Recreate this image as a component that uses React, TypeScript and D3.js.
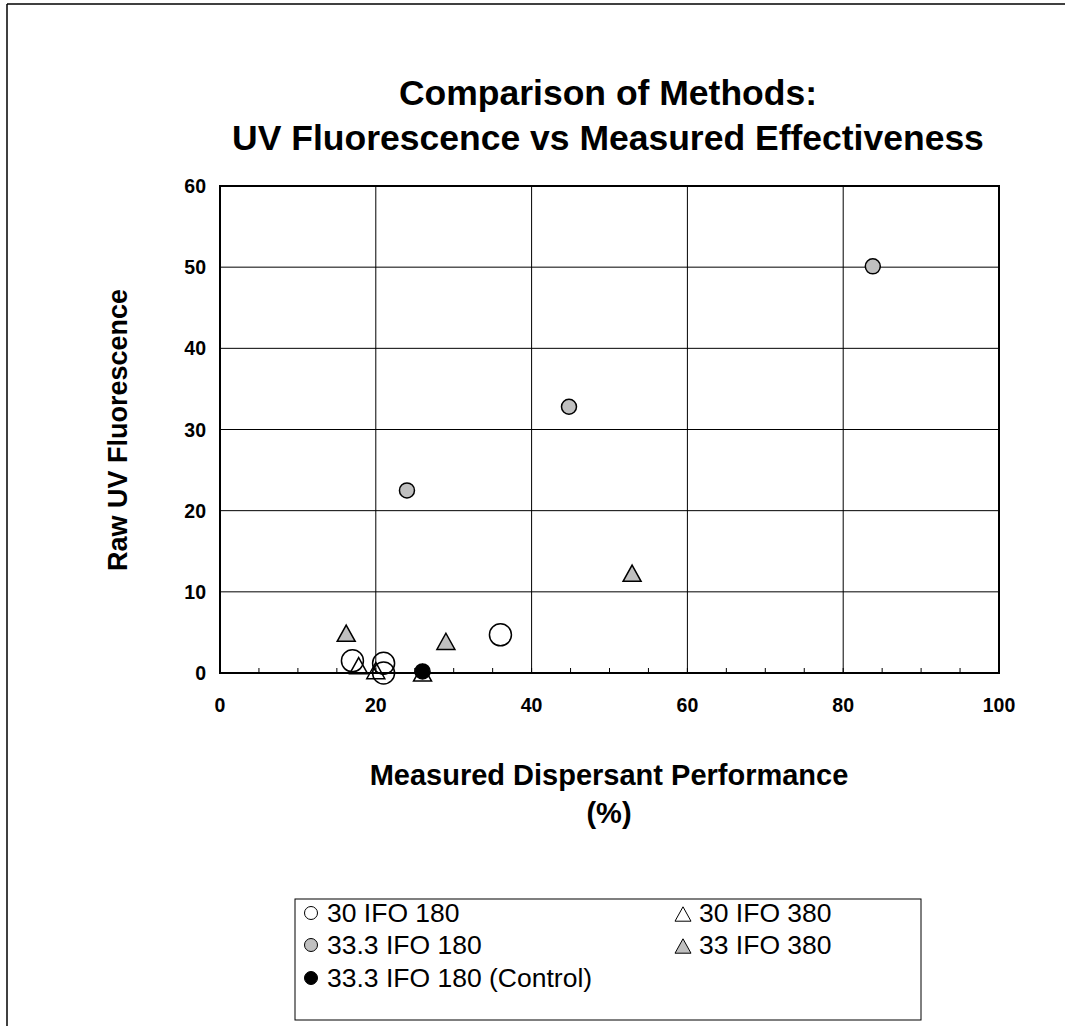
import React from "react";
import * as d3 from "d3";

const W = 1065;
const H = 1026;

// Data
const openCircleX = [17, 21, 21, 36];
const openCircleY = [1.5, 1.2, 0.0, 4.7];
const grayCircleX = [24, 44.8, 83.8];
const grayCircleY = [22.5, 32.8, 50.1];
const openTriX = [17.8, 20, 26];
const openTriY = [0.9, 0.3, 0.0];
const grayTriX = [16.2, 29, 52.9];
const grayTriY = [4.9, 3.9, 12.3];
const blackX = [26];
const blackY = [0.2];

const xTicks = [0, 20, 40, 60, 80, 100];
const yTicks = [0, 10, 20, 30, 40, 50, 60];
const xMinor = d3.range(0, 101, 5);

const titleLines = ["Comparison of Methods:", "UV Fluorescence vs Measured Effectiveness"];
const xTitleLines = ["Measured Dispersant Performance", "(%)"];
const yTitle = "Raw UV Fluorescence";

const legendItems = [
  { label: "30 IFO 180", shape: "circle", fill: "#ffffff" },
  { label: "30 IFO 380", shape: "triangle", fill: "#ffffff" },
  { label: "33.3 IFO 180", shape: "circle", fill: "#c0c0c0" },
  { label: "33 IFO 380", shape: "triangle", fill: "#c0c0c0" },
  { label: "33.3 IFO 180 (Control)", shape: "circle", fill: "#000000" },
];

const FONT = "'Liberation Sans', Arial, sans-serif";

export default function App() {
  const x = d3.scaleLinear().domain([0, 100]).range([220, 999]);
  const y = d3.scaleLinear().domain([0, 60]).range([673, 186]);

  const tri = (cx: number, cy: number, w: number) => {
    const h = w * 0.9;
    return `M${cx},${cy - h / 2} L${cx + w / 2},${cy + h / 2} L${cx - w / 2},${cy + h / 2} Z`;
  };

  const legendPos = [
    { x: 311, y: 913 },
    { x: 683, y: 913 },
    { x: 311, y: 945 },
    { x: 683, y: 945 },
    { x: 311, y: 978 },
  ];

  return (
    <svg
      width={W}
      height={H}
      style={{ position: "absolute", left: 0, top: 0, background: "#fff" }}
      fontFamily={FONT}
    >
      {/* outer frame */}
      <line x1={7} y1={4} x2={W} y2={4} stroke="#000" strokeWidth={1.5} />
      <line x1={7} y1={4} x2={7} y2={H} stroke="#000" strokeWidth={1.5} />

      {/* title */}
      {titleLines.map((t, i) => (
        <text
          key={i}
          x={608}
          y={105 + i * 45}
          textAnchor="middle"
          fontWeight="bold"
          fontSize={35.5}
        >
          {t}
        </text>
      ))}

      {/* gridlines */}
      {yTicks.slice(1, -1).map((t) => (
        <line key={"gy" + t} x1={x(0)} x2={x(100)} y1={y(t)} y2={y(t)} stroke="#000" strokeWidth={1} />
      ))}
      {xTicks.slice(1, -1).map((t) => (
        <line key={"gx" + t} x1={x(t)} x2={x(t)} y1={y(0)} y2={y(60)} stroke="#000" strokeWidth={1} />
      ))}

      {/* minor ticks */}
      {xMinor.map((t) => (
        <line key={"mt" + t} x1={x(t)} x2={x(t)} y1={y(0)} y2={y(0) - 5} stroke="#000" strokeWidth={1} />
      ))}

      {/* plot border */}
      <rect x={x(0)} y={y(60)} width={x(100) - x(0)} height={y(0) - y(60)} fill="none" stroke="#000" strokeWidth={2} />

      {/* tick labels */}
      {yTicks.map((t) => (
        <text key={"yl" + t} x={206} y={y(t) + 7} textAnchor="end" fontWeight="bold" fontSize={19.5}>
          {t}
        </text>
      ))}
      {xTicks.map((t) => (
        <text key={"xl" + t} x={x(t)} y={712} textAnchor="middle" fontWeight="bold" fontSize={19.5}>
          {t}
        </text>
      ))}

      {/* axis titles */}
      {xTitleLines.map((t, i) => (
        <text key={"xt" + i} x={609} y={785 + i * 38} textAnchor="middle" fontWeight="bold" fontSize={29}>
          {t}
        </text>
      ))}
      <text
        transform={`translate(127,430) rotate(-90)`}
        textAnchor="middle"
        fontWeight="bold"
        fontSize={27}
      >
        {yTitle}
      </text>

      {/* points */}
      {openCircleX.map((v, i) => (
        <circle key={"oc" + i} cx={x(v)} cy={y(openCircleY[i])} r={11} fill="none" stroke="#000" strokeWidth={1.5} />
      ))}
      {openTriX.map((v, i) => (
        <path key={"ot" + i} d={tri(x(v), y(openTriY[i]), 18)} fill="none" stroke="#000" strokeWidth={1.5} />
      ))}
      {grayTriX.map((v, i) => (
        <path key={"gt" + i} d={tri(x(v), y(grayTriY[i]), 18)} fill="#c0c0c0" stroke="#000" strokeWidth={1.5} />
      ))}
      {grayCircleX.map((v, i) => (
        <circle key={"gc" + i} cx={x(v)} cy={y(grayCircleY[i])} r={7.5} fill="#c0c0c0" stroke="#000" strokeWidth={1.5} />
      ))}
      {blackX.map((v, i) => (
        <circle key={"bc" + i} cx={x(v)} cy={y(blackY[i])} r={7.5} fill="#000" stroke="#000" strokeWidth={1.5} />
      ))}

      {/* legend */}
      <rect x={295} y={899} width={626} height={121} fill="#fff" stroke="#000" strokeWidth={1} />
      {legendItems.map((it, i) => {
        const p = legendPos[i];
        return (
          <g key={"lg" + i}>
            {it.shape === "circle" ? (
              <circle cx={p.x} cy={p.y} r={6.5} fill={it.fill} stroke="#000" strokeWidth={1} />
            ) : (
              <path d={tri(p.x, p.y + 1, 16)} fill={it.fill} stroke="#000" strokeWidth={1} />
            )}
            <text x={p.x + 16} y={p.y + 9} fontSize={26.5}>
              {it.label}
            </text>
          </g>
        );
      })}
    </svg>
  );
}
